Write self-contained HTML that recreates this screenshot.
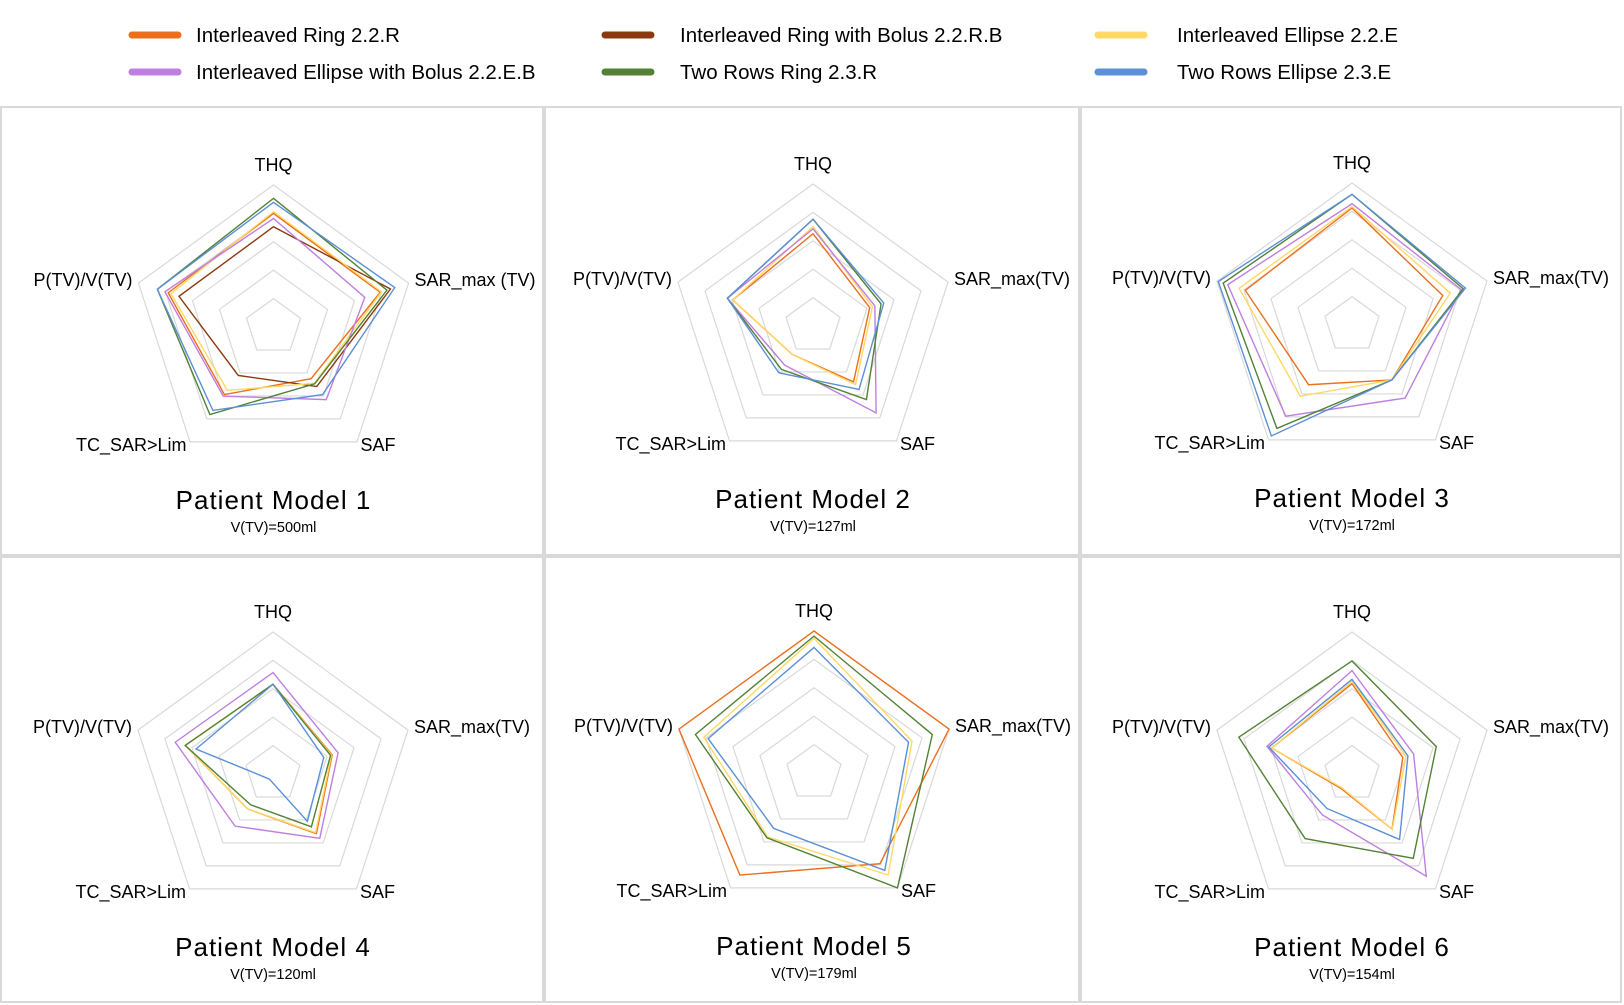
<!DOCTYPE html>
<html><head><meta charset="utf-8"><style>
body{margin:0;background:#fff;}
svg{display:block;font-family:"Liberation Sans",sans-serif;}
</style></head><body>
<svg id="chart" width="1624" height="1005" viewBox="0 0 1624 1005"></svg>
<script>
const axes = ["THQ","SAR_max(TV)","SAF","TC_SAR>Lim","P(TV)/V(TV)"];
const seriesNames = ["Interleaved Ring 2.2.R","Interleaved Ring with Bolus 2.2.R.B","Interleaved Ellipse 2.2.E","Interleaved Ellipse with Bolus 2.2.E.B","Two Rows Ring 2.3.R","Two Rows Ellipse 2.3.E"];
const panelTitles = ["Patient Model 1","Patient Model 2","Patient Model 3","Patient Model 4","Patient Model 5","Patient Model 6"];
const panelSubtitles = ["V(TV)=500ml","V(TV)=127ml","V(TV)=172ml","V(TV)=120ml","V(TV)=179ml","V(TV)=154ml"];
const gridLevels = [1,2,3,4,5];
// values per panel: [THQ, SAR_max, SAF, TC, P]; null = series not shown
const p1 = [[4.0,3.95,2.25,2.94,3.9],[3.53,4.33,2.59,2.11,3.5],[4.06,4.0,2.45,2.76,3.8],[3.82,3.38,3.16,3.01,4.02],[4.53,4.2,2.47,3.81,4.3],[4.39,4.49,2.94,3.63,4.3]];
const p2 = [[3.25,2.1,2.43,1.24,2.97],null,[3.5,2.2,2.55,1.24,2.97],[3.42,2.29,3.78,1.7,3.17],[3.76,2.52,3.2,1.89,3.17],[3.76,2.62,2.76,2.04,3.17]];
const p3 = [[4.12,3.36,2.39,2.6,3.95],null,[4.17,3.64,2.39,3.1,4.18],[4.27,4.04,3.18,3.97,4.6],[4.6,4.12,2.39,4.5,4.77],[4.6,4.2,2.39,4.83,4.95]];
const p4 = [[3.16,2.19,2.6,1.52,3.25],null,[3.16,2.16,2.55,1.52,3.25],[3.57,2.41,2.8,2.27,3.62],[3.16,2.13,2.3,1.34,3.25],[3.16,1.88,2.06,0.22,2.85]];
const p5 = [[5,5,3.95,4.44,5],null,[4.74,3.63,4.44,2.78,4.08],null,[4.82,4.38,5,2.82,4.39],[4.42,3.5,4.24,2.41,3.92]];
const p6 = [[3.18,1.88,2.4,0.64,2.97],null,[3.25,2.0,2.41,0.6,2.97],[3.64,2.28,4.45,1.78,3.15],[3.98,3.12,3.67,2.81,4.19],[3.33,2.07,2.85,1.5,3.08]];
const panelData = [p1,p2,p3,p4,p5,p6];

const colors = ["#EB6F1C","#8B3A0F","#FFD966","#BF7FE0","#538135","#5B8FD6"];
const NS = "http://www.w3.org/2000/svg";
const svg = document.getElementById("chart");
function mk(tag, attrs, parent){const e=document.createElementNS(NS,tag);for(const k in attrs)e.setAttribute(k,attrs[k]);(parent||svg).appendChild(e);return e;}
const maxV = 5, R = 142;
function pt(cx,cy,i,v){const a=-Math.PI/2+i*2*Math.PI/5;const r=v/maxV*R;return [cx+r*Math.cos(a),cy+r*Math.sin(a)];}

// legend
const legX=[132,605,1098], legTX=[196,680,1177], legY=[35,72];
seriesNames.forEach((n,i)=>{
  const col=i%3,row=Math.floor(i/3);
  const g=mk("g",{});
  
  
  const sw=mk("line",{x1:legX[col],y1:legY[row],x2:legX[col]+46,y2:legY[row],stroke:colors[i],"stroke-width":7,"stroke-linecap":"round"},g);
  
  
  const t=mk("text",{x:legTX[col],y:legY[row]+7,"font-size":20.5,fill:"#000"},g);
  
  
  t.textContent=n;
});

// panels
const colsX=[0,544,1080,1622], rowsY=[106,556,1003];
const centers=[[273.5,327],[813,326],[1352,325],[273,774],[814,773],[1352,774]];
panelData.forEach((data,p)=>{
  const col=p%3,row=Math.floor(p/3);
  const g=mk("g",{});
  
  
  const bx=mk("rect",{x:colsX[col]+1,y:rowsY[row]+1,width:colsX[col+1]-colsX[col]-2,height:rowsY[row+1]-rowsY[row]-2,fill:"none",stroke:"#d9d9d9","stroke-width":2},g);
  
  
  const [cx,cy]=centers[p];
  gridLevels.forEach(l=>{
    const pts=axes.map((a,i)=>pt(cx,cy,i,l).join(",")).join(" ");
    const gp=mk("polygon",{points:pts,fill:"none",stroke:"#d9d9d9","stroke-width":1.2},g);
    
    
  });
  data.forEach((vals,s)=>{
    if(!vals) return;
    const pts=vals.map((v,i)=>pt(cx,cy,i,v).join(",")).join(" ");
    const sp=mk("polygon",{points:pts,fill:"none",stroke:colors[s],"stroke-width":1.4,"stroke-linejoin":"miter"},g);
    
    
  });
  const labs=[[0,-162,"middle"],[141,-47,"start"],[87,118,"start"],[-87,118,"end"],[-141,-47,"end"]];
  axes.forEach((a,i)=>{
    const t=mk("text",{x:cx+labs[i][0],y:cy+labs[i][1]+6,"text-anchor":labs[i][2],"font-size":18,fill:"#000"},g);
    
    
    t.textContent=(p===0&&i===1)?"SAR_max (TV)":a;
  });
  const tt=mk("text",{x:cx,y:cy+182,"text-anchor":"middle","font-size":26,"letter-spacing":"1",fill:"#000"},g);
  
  
  tt.textContent=panelTitles[p];
  const st=mk("text",{x:cx,y:cy+205,"text-anchor":"middle","font-size":14.5,fill:"#000"},g);
  
  
  st.textContent=panelSubtitles[p];
});
</script>
</body></html>
